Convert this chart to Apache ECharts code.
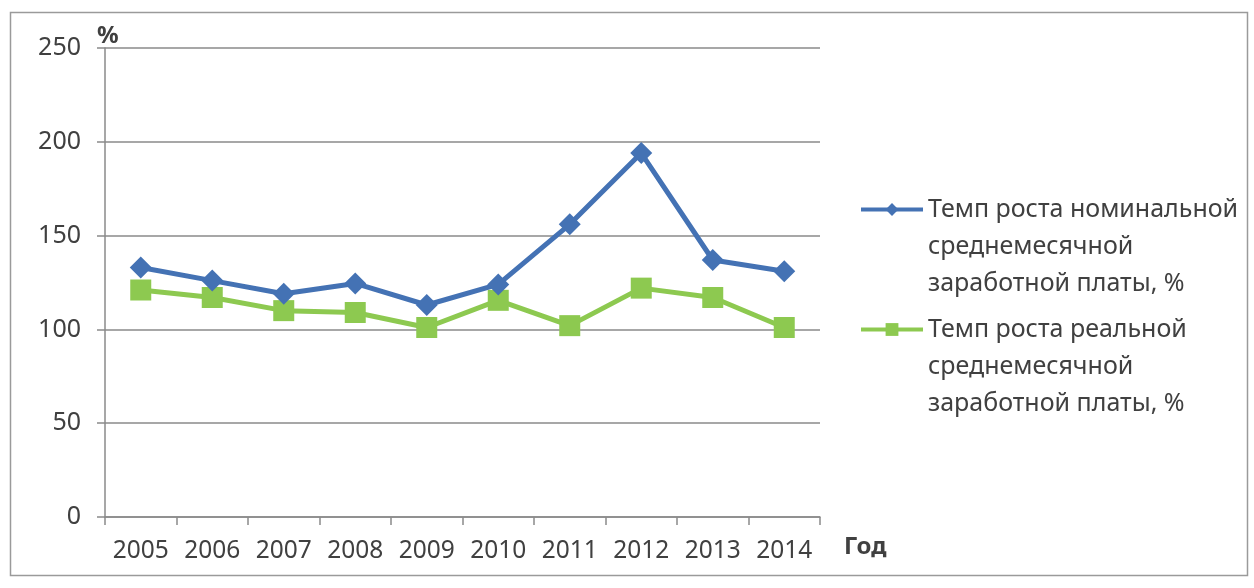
<!DOCTYPE html>
<html><head><meta charset="utf-8">
<script src="https://cdn.jsdelivr.net/npm/echarts@6/dist/echarts.min.js"></script>
<style>html,body{margin:0;padding:0;background:#fff}#c{width:1254px;height:588px}</style>
</head><body><div id="c"></div>
<script>
const years = ['2005','2006','2007','2008','2009','2010','2011','2012','2013','2014'];
const nominal = [133, 126, 119, 124.5, 113, 124, 156, 194, 137, 131];
const real = [121, 117, 110, 109, 101, 115.5, 102, 122, 117, 101];
const seriesNames = ['Темп роста номинальной\nсреднемесячной\nзаработной платы, %', 'Темп роста реальной\nсреднемесячной\nзаработной платы, %'];
const yTicks = {min: 0, max: 250, interval: 50};

const FONT = 'Noto Sans';
const TXT = '#404040';
const legendText = {fontFamily: FONT, fontSize: 25, color: TXT, lineHeight: 37};
const legendBase = {orient: 'vertical', left: 854, itemWidth: 62, itemHeight: 16,
  lineStyle: {width: 4}, textStyle: legendText, formatter: n => '\n\n' + n};
const chart = echarts.init(document.getElementById('c'));
chart.setOption({
  animation: false,
  textStyle: {fontFamily: FONT},
  graphic: [{type: 'rect', shape: {x: 10.5, y: 12.5, width: 1237, height: 563}, style: {fill: 'none', stroke: '#9a9a9a', lineWidth: 1.5}}],
  grid: {left: 105, right: 434, top: 48, bottom: 71, containLabel: false},
  legend: [
    Object.assign({}, legendBase, {top: 112, data: [seriesNames[0]]}),
    Object.assign({}, legendBase, {top: 232, data: [seriesNames[1]]})
  ],
  xAxis: {
    type: 'category', data: years, boundaryGap: true,
    name: 'Год', nameLocation: 'end', nameGap: 24,
    nameTextStyle: {fontFamily: FONT, fontSize: 24, fontWeight: 'bold', color: TXT, verticalAlign: 'top', padding: [18, 0, 0, 0]},
    axisLine: {lineStyle: {color: '#8a8a8a', width: 1.5}},
    axisTick: {show: true, length: 8, interval: 0, alignWithLabel: false, lineStyle: {color: '#8a8a8a', width: 1.5}},
    axisLabel: {fontFamily: FONT, fontSize: 24.5, color: TXT, margin: 22, interval: 0}
  },
  yAxis: {
    type: 'value', min: yTicks.min, max: yTicks.max, interval: yTicks.interval,
    name: '%', nameLocation: 'end', nameGap: 0,
    nameTextStyle: {fontFamily: FONT, fontSize: 24, fontWeight: 'bold', color: TXT, align: 'left', padding: [0, 0, 0, -8]},
    axisLine: {show: true, lineStyle: {color: '#8a8a8a', width: 1.5}},
    axisTick: {show: true, length: 8, lineStyle: {color: '#8a8a8a', width: 1.5}},
    splitLine: {lineStyle: {color: '#8a8a8a', width: 1.5}},
    axisLabel: {fontFamily: FONT, fontSize: 25, color: TXT, margin: 24}
  },
  series: [
    {name: seriesNames[0], type: 'line', data: nominal, symbol: 'diamond', symbolSize: 22,
     lineStyle: {color: '#4472B4', width: 5}, itemStyle: {color: '#4472B4'}, z: 3},
    {name: seriesNames[1], type: 'line', data: real, symbol: 'rect', symbolSize: 21,
     lineStyle: {color: '#8DC950', width: 5}, itemStyle: {color: '#8DC950'}, z: 2}
  ]
});
</script></body></html>
